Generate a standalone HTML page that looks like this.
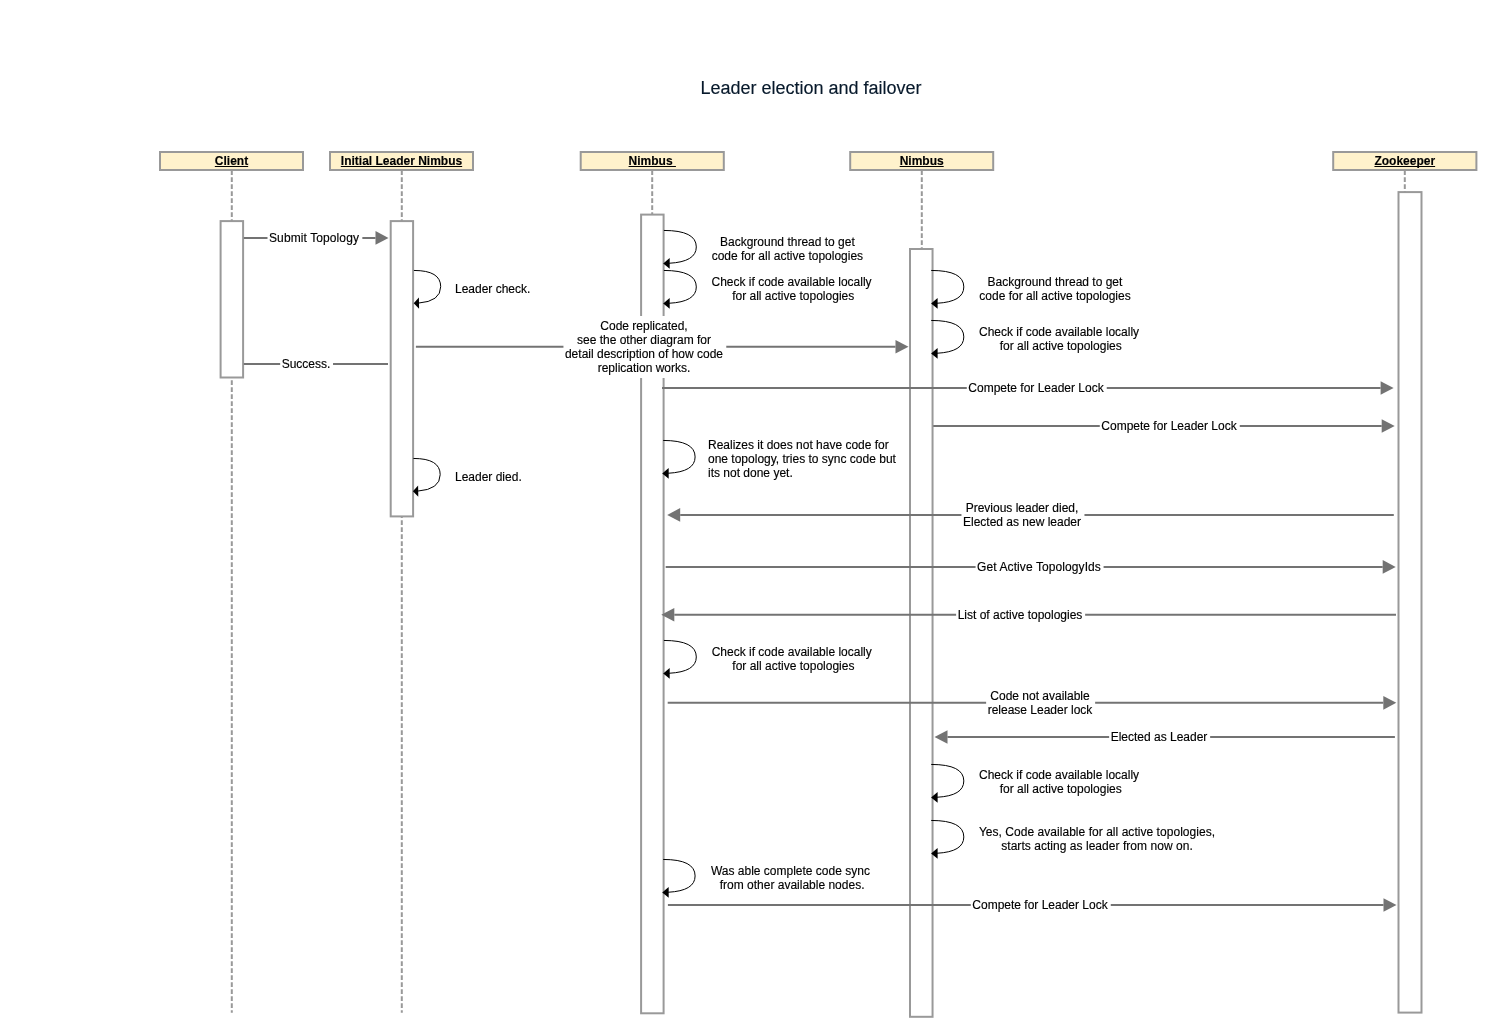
<!DOCTYPE html>
<html><head><meta charset="utf-8"><title>Leader election and failover</title>
<style>
html,body{margin:0;padding:0;background:#fff;}
body{width:1498px;height:1036px;position:relative;overflow:hidden;font-family:"Liberation Sans",sans-serif;}
svg{position:absolute;left:0;top:0;}
#tx{position:absolute;left:0;top:0;width:1498px;height:1036px;will-change:transform;-webkit-text-stroke:0.15px currentColor;}
.t{position:absolute;left:811px;top:88px;transform:translate(-50%,-50%);font-size:18px;color:#07192b;white-space:nowrap;}
.h{position:absolute;text-align:center;font-size:12px;font-weight:bold;text-decoration:underline;text-decoration-skip-ink:none;color:#000;white-space:nowrap;}
.l{position:absolute;transform:translate(-50%,-50%);font-size:12px;line-height:14px;color:#000;white-space:nowrap;padding:3px 2px;text-align:center;}
.bg{padding:3px 3px 3px 2px;}
.bg{background:#fff;}
.ll{position:absolute;transform:translate(0,-50%);font-size:12px;line-height:14px;color:#000;white-space:nowrap;}
</style></head><body>
<svg width="1498" height="1036" viewBox="0 0 1498 1036">
<line x1="231.8" y1="170.3" x2="231.8" y2="1012.8" stroke="#999999" stroke-width="2" stroke-dasharray="4.7 2.3"/>
<line x1="401.8" y1="170.3" x2="401.8" y2="1012.8" stroke="#999999" stroke-width="2" stroke-dasharray="4.7 2.3"/>
<line x1="652.2" y1="170.3" x2="652.2" y2="1013" stroke="#999999" stroke-width="2" stroke-dasharray="4.7 2.3"/>
<line x1="921.8" y1="170.3" x2="921.8" y2="1013" stroke="#999999" stroke-width="2" stroke-dasharray="4.7 2.3"/>
<line x1="1404.8" y1="170.3" x2="1404.8" y2="1013" stroke="#999999" stroke-width="2" stroke-dasharray="4.7 2.3"/>
<rect x="160.0" y="152.0" width="143" height="18" fill="#fff2cc" stroke="#999999" stroke-width="2"/>
<rect x="330.0" y="152.0" width="143" height="18" fill="#fff2cc" stroke="#999999" stroke-width="2"/>
<rect x="580.7" y="152.0" width="143.0999999999999" height="18" fill="#fff2cc" stroke="#999999" stroke-width="2"/>
<rect x="850.2" y="152.0" width="143.0" height="18" fill="#fff2cc" stroke="#999999" stroke-width="2"/>
<rect x="1333.2" y="152.0" width="143.20000000000005" height="18" fill="#fff2cc" stroke="#999999" stroke-width="2"/>
<rect x="220.6" y="221.1" width="22.5" height="156.4" fill="#ffffff" stroke="#999999" stroke-width="2"/>
<rect x="390.7" y="221.1" width="22.400000000000034" height="295.29999999999995" fill="#ffffff" stroke="#999999" stroke-width="2"/>
<rect x="641.1" y="214.6" width="22.5" height="798.6999999999999" fill="#ffffff" stroke="#999999" stroke-width="2"/>
<rect x="910.0" y="249.0" width="22.549999999999955" height="767.8" fill="#ffffff" stroke="#999999" stroke-width="2"/>
<rect x="1398.5" y="192.1" width="23.0" height="820.5" fill="#ffffff" stroke="#999999" stroke-width="2"/>
<line x1="243.8" y1="237.9" x2="375.5" y2="237.9" stroke="#737373" stroke-width="2"/>
<polygon points="388.5,237.9 375.5,231.1 375.5,244.70000000000002" fill="#737373"/>
<line x1="243.8" y1="363.9" x2="388.0" y2="363.9" stroke="#737373" stroke-width="2"/>
<line x1="415.9" y1="346.8" x2="895.5" y2="346.8" stroke="#737373" stroke-width="2"/>
<polygon points="908.5,346.8 895.5,340.0 895.5,353.6" fill="#737373"/>
<line x1="662.0" y1="388.0" x2="1380.6" y2="388.0" stroke="#737373" stroke-width="2"/>
<polygon points="1393.6,388.0 1380.6,381.2 1380.6,394.8" fill="#737373"/>
<line x1="933.2" y1="426.0" x2="1381.7" y2="426.0" stroke="#737373" stroke-width="2"/>
<polygon points="1394.7,426.0 1381.7,419.2 1381.7,432.8" fill="#737373"/>
<line x1="1393.8" y1="514.9" x2="680.2" y2="514.9" stroke="#737373" stroke-width="2"/>
<polygon points="667.2,514.9 680.2,508.09999999999997 680.2,521.6999999999999" fill="#737373"/>
<line x1="665.7" y1="566.9" x2="1382.7" y2="566.9" stroke="#737373" stroke-width="2"/>
<polygon points="1395.7,566.9 1382.7,560.1 1382.7,573.6999999999999" fill="#737373"/>
<line x1="1396.0" y1="614.8" x2="674.3" y2="614.8" stroke="#737373" stroke-width="2"/>
<polygon points="661.3,614.8 674.3,608.0 674.3,621.5999999999999" fill="#737373"/>
<line x1="667.7" y1="702.85" x2="1383.3" y2="702.85" stroke="#737373" stroke-width="2"/>
<polygon points="1396.3,702.85 1383.3,696.0500000000001 1383.3,709.65" fill="#737373"/>
<line x1="1394.9" y1="736.95" x2="947.5" y2="736.95" stroke="#737373" stroke-width="2"/>
<polygon points="934.5,736.95 947.5,730.1500000000001 947.5,743.75" fill="#737373"/>
<line x1="667.9" y1="905.0" x2="1383.5" y2="905.0" stroke="#737373" stroke-width="2"/>
<polygon points="1396.5,905.0 1383.5,898.2 1383.5,911.8" fill="#737373"/>
<path d="M413.90,270.45 Q440.70,270.45 440.70,286.68 Q440.70,301.41 418.44,303.09" fill="none" stroke="#000" stroke-width="1.0"/>
<polygon points="413.70,303.30 418.92,297.62 419.08,308.82" fill="#000"/>
<path d="M413.40,458.45 Q440.20,458.45 440.20,474.68 Q440.20,489.42 417.64,491.10" fill="none" stroke="#000" stroke-width="1.0"/>
<polygon points="412.90,491.30 418.12,485.62 418.28,496.82" fill="#000"/>
<path d="M663.90,230.45 Q696.30,230.45 696.30,246.92 Q696.30,261.85 669.13,263.25" fill="none" stroke="#000" stroke-width="1.0"/>
<polygon points="663.20,263.40 669.70,258.00 669.70,268.80" fill="#000"/>
<path d="M663.90,270.45 Q696.30,270.45 696.30,286.92 Q696.30,301.85 669.13,303.25" fill="none" stroke="#000" stroke-width="1.0"/>
<polygon points="663.20,303.40 669.70,298.00 669.70,308.80" fill="#000"/>
<path d="M663.20,440.45 Q695.10,440.45 695.10,456.92 Q695.10,471.83 668.15,473.25" fill="none" stroke="#000" stroke-width="1.0"/>
<polygon points="662.20,473.40 668.70,468.00 668.70,478.80" fill="#000"/>
<path d="M663.90,640.45 Q696.30,640.45 696.30,656.93 Q696.30,671.85 669.13,673.25" fill="none" stroke="#000" stroke-width="1.0"/>
<polygon points="663.20,673.40 669.70,668.00 669.70,678.80" fill="#000"/>
<path d="M663.20,859.45 Q695.10,859.45 695.10,875.93 Q695.10,890.83 668.15,892.25" fill="none" stroke="#000" stroke-width="1.0"/>
<polygon points="662.20,892.40 668.70,887.00 668.70,897.80" fill="#000"/>
<path d="M931.20,270.45 Q963.80,270.45 963.80,286.92 Q963.80,301.83 937.02,303.25" fill="none" stroke="#000" stroke-width="1.0"/>
<polygon points="931.10,303.40 937.60,298.00 937.60,308.80" fill="#000"/>
<path d="M931.20,320.45 Q963.80,320.45 963.80,336.92 Q963.80,351.83 937.02,353.25" fill="none" stroke="#000" stroke-width="1.0"/>
<polygon points="931.10,353.40 937.60,348.00 937.60,358.80" fill="#000"/>
<path d="M931.20,764.45 Q963.80,764.45 963.80,780.93 Q963.80,795.83 937.02,797.25" fill="none" stroke="#000" stroke-width="1.0"/>
<polygon points="931.10,797.40 937.60,792.00 937.60,802.80" fill="#000"/>
<path d="M931.20,820.45 Q963.80,820.45 963.80,836.93 Q963.80,851.83 937.02,853.25" fill="none" stroke="#000" stroke-width="1.0"/>
<polygon points="931.10,853.40 937.60,848.00 937.60,858.80" fill="#000"/>
</svg>
<div id="tx">
<div class="t">Leader election and failover</div>
<div class="h" style="left:159px;top:151px;width:145px;height:20px;line-height:20px">Client</div>
<div class="h" style="left:329px;top:151px;width:145px;height:20px;line-height:20px">Initial Leader Nimbus</div>
<div class="h" style="left:579.7px;top:151px;width:145.0999999999999px;height:20px;line-height:20px">Nimbus&nbsp;</div>
<div class="h" style="left:849.2px;top:151px;width:145.0px;height:20px;line-height:20px">Nimbus</div>
<div class="h" style="left:1332.2px;top:151px;width:145.20000000000005px;height:20px;line-height:20px">Zookeeper</div>
<div class="l bg" style="left:314.5px;top:238px;letter-spacing:0.1px;">Submit Topology</div>
<div class="l bg" style="left:306.5px;top:364px;">Success.</div>
<div class="l bg" style="left:644.5px;top:347px;">Code replicated,<br>see the other diagram for<br>detail description of how code<br>replication works.</div>
<div class="l bg" style="left:1036.5px;top:388px;">Compete for Leader Lock</div>
<div class="l bg" style="left:1169.5px;top:426px;">Compete for Leader Lock</div>
<div class="l bg" style="left:1022.5px;top:515px;">Previous leader died,<br>Elected as new leader</div>
<div class="l bg" style="left:1039.5px;top:567px;letter-spacing:0.09px;">Get Active TopologyIds</div>
<div class="l bg" style="left:1020.5px;top:615px;">List of active topologies</div>
<div class="l bg" style="left:1040.5px;top:703px;">Code not available<br>release Leader lock</div>
<div class="l bg" style="left:1159.5px;top:737px;">Elected as Leader</div>
<div class="l bg" style="left:1040.5px;top:905px;">Compete for Leader Lock</div>
<div class="ll" style="left:455px;top:289px;text-align:center">Leader check.</div>
<div class="ll" style="left:455px;top:477px;text-align:center">Leader died.</div>
<div class="l" style="left:787.4px;top:249px;">Background thread to get<br>code for all active topologies</div>
<div class="l" style="left:793.2px;top:289px;">Check if code available locally&nbsp;<br>for all active topologies</div>
<div class="ll" style="left:708px;top:459px;text-align:left">Realizes it does not have code for<br>one topology, tries to sync code but<br>its not done yet.</div>
<div class="l" style="left:793.4px;top:659px;">Check if code available locally&nbsp;<br>for all active topologies</div>
<div class="l" style="left:792.1px;top:878px;">Was able complete code sync&nbsp;<br>from other available nodes.</div>
<div class="l" style="left:1055px;top:289px;">Background thread to get<br>code for all active topologies</div>
<div class="l" style="left:1060.7px;top:339px;">Check if code available locally&nbsp;<br>for all active topologies</div>
<div class="l" style="left:1060.7px;top:782px;">Check if code available locally&nbsp;<br>for all active topologies</div>
<div class="l" style="left:1097px;top:839px;letter-spacing:0.04px;">Yes, Code available for all active topologies,<br>starts acting as leader from now on.</div>
</div>
</body></html>
